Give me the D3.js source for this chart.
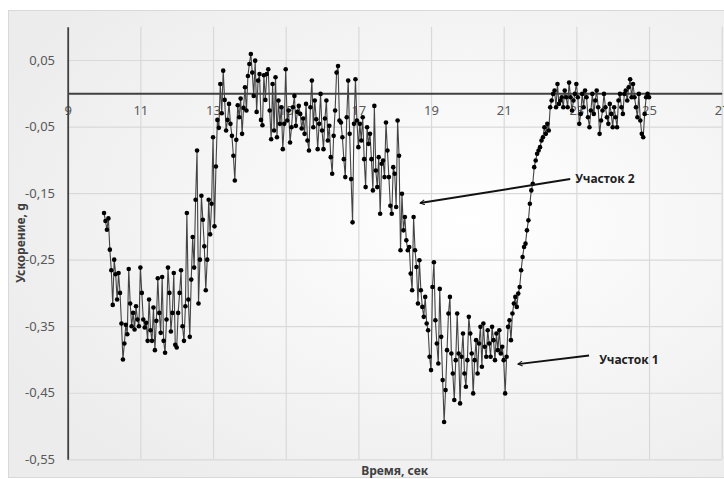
<!DOCTYPE html>
<html>
<head>
<meta charset="utf-8">
<script src="https://cdn.jsdelivr.net/npm/d3@7"></script>
<style>
  body { margin: 0; background: #fff; }
  text { font-family: "Noto Sans", sans-serif; }
</style>
</head>
<body>
<div id="chart"></div>
<script>

/* Data */
var xTicks = [9, 11, 13, 15, 17, 19, 21, 23, 25, 27];
var yTicks = [0.05, -0.05, -0.15, -0.25, -0.35, -0.45, -0.55];

var times = [
  10,10.04,10.08,10.12,10.16,10.2,10.24,10.28,10.32,10.36,10.4,10.44,10.48,10.52,10.56,10.6,10.64,10.68,10.72,10.76,10.8,10.84,10.88,10.92,10.96,
  11,11.04,11.08,11.12,11.16,11.2,11.24,11.28,11.32,11.36,11.4,11.44,11.48,11.52,11.56,11.6,11.64,11.68,11.72,11.76,11.8,11.84,11.88,11.92,11.96,
  12,12.04,12.08,12.12,12.16,12.2,12.24,12.28,12.32,12.36,12.4,12.44,12.48,12.52,12.56,12.6,12.64,12.68,12.72,12.76,12.8,12.84,12.88,12.92,12.96,
  13,13.04,13.08,13.12,13.16,13.2,13.24,13.28,13.32,13.36,13.4,13.44,13.48,13.52,13.56,13.6,13.64,13.68,13.72,13.76,13.8,13.84,13.88,13.92,13.96,
  14,14.04,14.08,14.12,14.16,14.2,14.24,14.28,14.32,14.36,14.4,14.44,14.48,14.52,14.56,14.6,14.64,14.68,14.72,14.76,14.8,14.84,14.88,14.92,14.96,
  15,15.04,15.08,15.12,15.16,15.2,15.24,15.28,15.32,15.36,15.4,15.44,15.48,15.52,15.56,15.6,15.64,15.68,15.72,15.76,15.8,15.84,15.88,15.92,15.96,
  16,16.04,16.08,16.12,16.16,16.2,16.24,16.28,16.32,16.36,16.4,16.44,16.48,16.52,16.56,16.6,16.64,16.68,16.72,16.76,16.8,16.84,16.88,16.92,16.96,
  17,17.04,17.08,17.12,17.16,17.2,17.24,17.28,17.32,17.36,17.4,17.44,17.48,17.52,17.56,17.6,17.64,17.68,17.72,17.76,17.8,17.84,17.88,17.92,17.96,
  18,18.04,18.08,18.12,18.16,18.2,18.24,18.28,18.32,18.36,18.4,18.44,18.48,18.52,18.56,18.6,18.64,18.68,18.72,18.76,18.8,18.84,18.88,18.92,18.96,
  19,19.04,19.08,19.12,19.16,19.2,19.24,19.28,19.32,19.36,19.4,19.44,19.48,19.52,19.56,19.6,19.64,19.68,19.72,19.76,19.8,19.84,19.88,19.92,19.96,
  20,20.04,20.08,20.12,20.16,20.2,20.24,20.28,20.32,20.36,20.4,20.44,20.48,20.52,20.56,20.6,20.64,20.68,20.72,20.76,20.8,20.84,20.88,20.92,20.96,
  21,21.04,21.08,21.12,21.16,21.2,21.24,21.28,21.32,21.36,21.4,21.44,21.48,21.52,21.56,21.6,21.64,21.68,21.72,21.76,21.8,21.84,21.88,21.92,21.96,
  22,22.04,22.08,22.12,22.16,22.2,22.24,22.28,22.32,22.36,22.4,22.44,22.48,22.52,22.56,22.6,22.64,22.68,22.72,22.76,22.8,22.84,22.88,22.92,22.96,
  23,23.04,23.08,23.12,23.16,23.2,23.24,23.28,23.32,23.36,23.4,23.44,23.48,23.52,23.56,23.6,23.64,23.68,23.72,23.76,23.8,23.84,23.88,23.92,23.96,
  24,24.04,24.08,24.12,24.16,24.2,24.24,24.28,24.32,24.36,24.4,24.44,24.48,24.52,24.56,24.6,24.64,24.68,24.72,24.76,24.8,24.84,24.88,24.92,24.96,
  25
];

var accel = [
  -0.180,-0.192,-0.205,-0.188,-0.235, -0.266,-0.318,-0.250,-0.272,-0.310, -0.270,-0.300,-0.346,-0.400,-0.376, -0.348,-0.362,-0.264,-0.316,-0.350, -0.330,-0.355,-0.320,-0.340,-0.350,
  -0.262,-0.300,-0.340,-0.352,-0.345, -0.372,-0.310,-0.356,-0.372,-0.322, -0.386,-0.342,-0.278,-0.330,-0.360, -0.276,-0.372,-0.390,-0.340,-0.262, -0.300,-0.358,-0.330,-0.270,-0.378,
  -0.382,-0.330,-0.300,-0.266,-0.350, -0.372,-0.320,-0.180,-0.310,-0.366, -0.280,-0.216,-0.262,-0.160,-0.086, -0.316,-0.250,-0.154,-0.190,-0.230, -0.296,-0.250,-0.160,-0.212,-0.166,
  -0.066,-0.200,-0.110,-0.040,-0.052, 0.014,-0.030,0.034,-0.010,-0.056, -0.040,-0.016,-0.046,-0.064,-0.094, -0.131,-0.070,-0.018,-0.036,-0.008, -0.061,-0.022,0.009,-0.026,0.026,
  0.044,0.059,0.031,-0.004,0.049, -0.028,0.019,0.029,-0.040,-0.048, 0.027,-0.010,0.029,0.036,-0.026, -0.069,0.014,-0.056,0.024,-0.066, -0.011,-0.046,-0.021,-0.084,-0.046,
  0.036,-0.041,-0.026,-0.074,-0.051, -0.021,-0.004,-0.049,-0.028,-0.019, -0.031,-0.053,-0.038,-0.061,-0.016, -0.071,-0.086,-0.021,0.019,-0.051, -0.011,-0.039,-0.084,-0.046,-0.001,
  -0.056,-0.084,-0.038,-0.011,-0.071, -0.049,-0.096,-0.121,-0.064,-0.026, 0.031,0.041,-0.041,-0.044,-0.066, -0.099,-0.126,-0.036,0.019,-0.061, -0.129,-0.194,-0.046,0.021,-0.041,
  -0.081,-0.046,-0.071,-0.036,-0.099, -0.141,-0.051,-0.076,-0.061,-0.099, -0.146,-0.019,-0.116,-0.141,-0.096, -0.181,-0.106,-0.101,-0.126,-0.044, -0.086,-0.126,-0.169,-0.181,-0.111,
  -0.121,-0.171,-0.041,-0.094,-0.236, -0.151,-0.206,-0.186,-0.221,-0.236, -0.231,-0.271,-0.296,-0.186,-0.236, -0.261,-0.316,-0.251,-0.296,-0.321, -0.336,-0.306,-0.346,-0.356,-0.396,
  -0.416,-0.291,-0.254,-0.341,-0.376, -0.406,-0.294,-0.366,-0.431,-0.494, -0.446,-0.386,-0.331,-0.306,-0.391, -0.421,-0.461,-0.401,-0.331,-0.391, -0.466,-0.396,-0.361,-0.421,-0.441,
  -0.401,-0.336,-0.361,-0.391,-0.451, -0.401,-0.371,-0.421,-0.376,-0.351, -0.411,-0.346,-0.381,-0.396,-0.356, -0.376,-0.396,-0.351,-0.371,-0.401, -0.361,-0.386,-0.356,-0.391,-0.381,
  -0.401,-0.451,-0.396,-0.351,-0.341, -0.371,-0.331,-0.316,-0.306,-0.321, -0.301,-0.291,-0.266,-0.246,-0.231, -0.226,-0.206,-0.191,-0.166,-0.146, -0.136,-0.111,-0.101,-0.091,-0.086,
  -0.081,-0.071,-0.066,-0.051,-0.061, -0.046,-0.056,-0.021,-0.011,-0.001, 0.004,-0.021,0.014,-0.016,-0.011, -0.006,-0.021,0.004,-0.006,-0.021, 0.016,-0.006,-0.026,-0.011,-0.001,
  0.014,-0.006,-0.046,-0.031,-0.001, -0.021,0.004,-0.006,-0.036,-0.051, -0.026,-0.001,-0.031,-0.011,0.004, -0.021,-0.061,-0.041,-0.026,-0.001, -0.021,-0.036,-0.046,-0.016,-0.031,
  -0.051,-0.021,-0.036,-0.051,-0.011, -0.001,-0.021,-0.031,-0.001,0.004, -0.011,0.009,0.021,-0.006,0.014, -0.006,-0.021,-0.036,-0.001,-0.041, -0.061,-0.066,-0.031,-0.006,-0.001,
  -0.006
];

// annotations: label, label position, arrow tail and tip (data units)
var noteLabels = ["Участок 2", "Участок 1"];
var noteText = [[22.97, -0.129], [23.63, -0.401]];
var noteTail = [[22.83, -0.129], [23.35, -0.394]];
var noteTip = [[18.70, -0.165], [21.39, -0.407]];


/* margin convention */
var margin = { top: 26.7, left: 67.7 };
var width = 654;
var height = 432.6;

var svg = d3.select("#chart").append("svg")
  .attr("width", 724)
  .attr("height", 479);

var defs = svg.append("defs");
var grad = defs.append("radialGradient").attr("id", "bg")
  .attr("cx", "62%").attr("cy", "45%").attr("r", "70%");
grad.append("stop").attr("offset", "0%").attr("stop-color", "#ffffff");
grad.append("stop").attr("offset", "100%").attr("stop-color", "#ececec");

defs.append("marker").attr("id", "arrow")
  .attr("viewBox", "-10 -6 12 12")
  .attr("refX", 0).attr("refY", 0)
  .attr("markerWidth", 6).attr("markerHeight", 6)
  .attr("markerUnits", "userSpaceOnUse")
  .attr("orient", "auto")
  .append("path")
    .attr("d", "M-9,-5L0,0L-9,5")
    .attr("fill", "none")
    .attr("stroke", "#111")
    .attr("stroke-width", 2);

// chart area
svg.append("rect")
  .attr("x", 8.5).attr("y", 10.5)
  .attr("width", 740).attr("height", 467)
  .attr("fill", "url(#bg)")
  .attr("stroke", "#d9d9d9");

var g = svg.append("g")
  .attr("transform", "translate(" + margin.left + "," + margin.top + ")");

var x = d3.scaleLinear().domain([9, 27]).range([0, width]);
var y = d3.scaleLinear().domain([-0.55, 0.1]).range([height, 0]);

var comma = function(d) { return d.toFixed(2).replace(".", ","); };

/* gridlines */
g.append("g")
  .attr("transform", "translate(0," + height + ")")
  .call(d3.axisBottom(x).tickValues(xTicks.slice(1)).tickSize(-height).tickFormat(""))
  .call(function(s) { s.select(".domain").remove(); })
  .selectAll("line").attr("stroke", "#d9d9d9").attr("stroke-width", 1.2);

g.append("g")
  .call(d3.axisLeft(y).tickValues(yTicks).tickSize(-width).tickFormat(""))
  .call(function(s) { s.select(".domain").remove(); })
  .selectAll("line").attr("stroke", "#d9d9d9").attr("stroke-width", 1.2);

/* axes */
var xAxis = g.append("g")
  .attr("transform", "translate(0," + y(0) + ")")
  .call(d3.axisBottom(x).tickValues(xTicks).tickSize(0).tickPadding(13).tickFormat(d3.format("d")));
xAxis.select(".domain").attr("stroke", "#404040").attr("stroke-width", 1.8);
xAxis.selectAll("text").attr("font-size", 13).attr("fill", "#595959")
  .attr("font-family", "Noto Sans");

var yAxis = g.append("g")
  .call(d3.axisLeft(y).tickValues(yTicks).tickSize(0).tickPadding(12.7).tickFormat(comma));
yAxis.select(".domain").attr("stroke", "#404040").attr("stroke-width", 1.8);
yAxis.selectAll("text").attr("font-size", 13).attr("fill", "#595959")
  .attr("font-family", "Noto Sans");

/* axis titles */
svg.append("text")
  .attr("x", margin.left + width / 2).attr("y", 475)
  .attr("text-anchor", "middle")
  .attr("font-size", 12).attr("font-weight", "bold").attr("fill", "#404040")
  .text("Время, сек");

svg.append("text")
  .attr("transform", "translate(25," + (margin.top + height / 2) + ") rotate(-90)")
  .attr("text-anchor", "middle")
  .attr("font-size", 12).attr("font-weight", "bold").attr("fill", "#404040")
  .text("Ускорение, g");

/* series */
var data = times.map(function(t, i) { return { t: t, v: accel[i] }; });

var line = d3.line()
  .x(function(d) { return x(d.t); })
  .y(function(d) { return y(d.v); });

g.append("path").datum(data)
  .attr("d", line)
  .attr("fill", "none")
  .attr("stroke", "#444")
  .attr("stroke-width", 1.1);

g.selectAll("circle").data(data)
  .enter()
    .append("circle")
      .attr("cx", function(d) { return x(d.t); })
      .attr("cy", function(d) { return y(d.v); })
      .attr("r", 2.3)
      .attr("fill", "#000");

/* annotations */
noteLabels.forEach(function(lbl, i) {
  g.append("line")
    .attr("x1", x(noteTail[i][0])).attr("y1", y(noteTail[i][1]))
    .attr("x2", x(noteTip[i][0])).attr("y2", y(noteTip[i][1]))
    .attr("stroke", "#111").attr("stroke-width", 2)
    .attr("marker-end", "url(#arrow)");
  g.append("text")
    .attr("x", x(noteText[i][0])).attr("y", y(noteText[i][1]))
    .attr("dy", "0.35em")
    .attr("font-size", 12).attr("font-weight", "bold").attr("fill", "#222")
    .text(lbl);
});

</script>
</body>
</html>
